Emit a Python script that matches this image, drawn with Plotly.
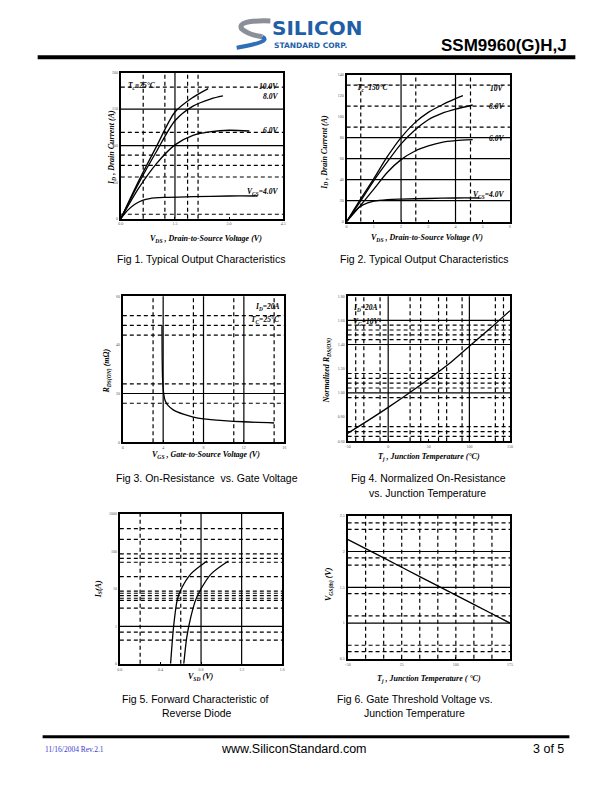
import plotly.graph_objects as go

W, H = 612, 792


def px(x):
    return x / W


def py(y):
    return 1 - y / H


# ---- Fig 1: typical output characteristics, Tc = 25 C
f1_vds_10v = [0, 0.5, 1.0, 1.5, 2.0, 2.42]
f1_id_10v = [0, 52, 100, 146, 166, 178]
f1_vds_8v = [0, 0.5, 1.0, 1.5, 2.0, 2.5, 2.83]
f1_id_8v = [0, 49, 93, 134, 154, 164, 168]
f1_vds_6v = [0, 0.5, 1.0, 1.5, 2.0, 2.5, 3.0, 3.56]
f1_id_6v = [0, 42, 76, 101, 114, 119, 121, 120]
f1_vds_4v = [0, 0.2, 0.4, 0.6, 0.8, 1.2, 2.0, 3.0, 3.79]
f1_id_4v = [0, 12, 20, 25, 27.5, 29, 30, 31, 31]

# ---- Fig 2: typical output characteristics, Tc = 150 C
f2_vds_10v = [0, 0.5, 1, 1.5, 2, 2.5, 3, 3.5, 4, 4.27]
f2_id_10v = [0, 21, 41, 62, 80, 94, 104, 111, 117, 120]
f2_vds_8v = [0, 0.5, 1, 1.5, 2, 2.5, 3, 3.5, 4, 4.63]
f2_id_8v = [0, 19, 39, 57, 74, 87, 97, 103, 107, 111]
f2_vds_6v = [0, 0.5, 1, 1.5, 2, 2.5, 3, 3.5, 4, 4.63]
f2_id_6v = [0, 15, 31, 47, 59, 67, 72, 75.5, 77, 78]
f2_vds_4v = [0, 0.3, 0.6, 1, 1.5, 2, 3, 4, 4.88]
f2_id_4v = [0, 10, 16, 19.5, 21, 21.5, 22, 22.5, 22.5]

# ---- Fig 3: on-resistance vs gate voltage
f3_vgs = [3.88, 3.9, 3.95, 4.05, 4.2, 4.5, 5, 6, 7, 8, 10, 12, 15]
f3_rds = [48, 35, 25, 20, 17, 15, 13.3, 11.5, 10.3, 9.6, 8.9, 8.4, 7.9]

# ---- Fig 4: normalized on-resistance vs junction temperature
f4_tj = [-50, -25, 0, 25, 50, 75, 100, 125, 150]
f4_rn = [0.665, 0.77, 0.88, 0.995, 1.115, 1.24, 1.385, 1.53, 1.68]

# ---- Fig 5: forward characteristic of reverse diode
f5_vsd_150 = [0.5, 0.53, 0.565, 0.6, 0.7, 0.86]
f5_is_150 = [0.1, 1, 5, 9.3, 25, 55]
f5_vsd_25 = [0.63, 0.66, 0.7, 0.75, 0.8, 0.9, 1.07]
f5_is_25 = [0.1, 0.52, 1.8, 5.3, 10, 25, 55]

# ---- Fig 6: gate threshold voltage vs junction temperature
f6_tj = [-50, 0, 50, 100, 150, 175]
f6_vth = [2.17, 1.91, 1.65, 1.39, 1.13, 1.0]

# panel layout (pixel box on the page) and grid lines
panels = [
    dict(box=(119, 70, 283, 217), xr=[0, 4.5], yr=[0, 200],
         xt=[0, 1.5, 3.0, 4.5], xtt=["0.0", "1.5", "3.0", "4.5"],
         yt=[0, 50, 100, 150, 200], ytt=["0", "50", "100", "150", "200"],
         vs=[1.5], vd=[0.62, 1.22, 1.85, 2.14],
         hs=[100, 150], hd=[6, 57, 73, 87, 118, 180]),
    dict(box=(347, 72, 512, 220), xr=[0, 6], yr=[0, 140],
         xt=[0, 1, 2, 3, 4, 5, 6], xtt=None,
         yt=[0, 20, 40, 60, 80, 100, 120, 140], ytt=None,
         vs=[2, 4], vd=[0.52, 2.54, 4.55],
         hs=[20, 40, 60, 80], hd=[90, 110, 130]),
    dict(box=(121, 295, 284, 442), xr=[0, 16], yr=[0, 60],
         xt=[0, 4, 8, 12, 16], xtt=None,
         yt=[0, 20, 40, 60], ytt=None,
         vs=[4, 8, 12], vd=[3, 7, 11, 15],
         hs=[20], hd=[16, 24, 44, 48, 52]),
    dict(box=(348, 295, 512, 441), xr=[-50, 150], yr=[0.6, 1.8],
         xt=[-50, 0, 50, 100, 150], xtt=None,
         yt=[0.6, 0.8, 1.0, 1.2, 1.4, 1.6, 1.8],
         ytt=["0.60", "0.80", "1.00", "1.20", "1.40", "1.60", "1.80"],
         vs=[0, 100], vd=[-40, -30, -10, 27, 40, 62, 72, 91, 132, 142],
         hs=[1.0, 1.4, 1.6],
         hd=[0.64, 0.68, 0.72, 0.96, 1.04, 1.08, 1.12, 1.16, 1.44, 1.48, 1.52, 1.56]),
    dict(box=(118, 514, 282, 665), xr=[0, 1.6], yr=[-1, 3], ylog=True,
         xt=[0, 0.4, 0.8, 1.2, 1.6], xtt=["0.0", "0.4", "0.8", "1.2", "1.6"],
         yt=[0.1, 1, 10, 100, 1000], ytt=["0", "1", "10", "100", "1000"],
         vs=[0.8, 1.2], vd=[0.2, 0.6],
         hs=[1], hd=[0.43, 0.7, 3.06, 4.9, 5.6, 6.6, 7.6, 8.7, 21, 51, 65, 85, 208, 400]),
    dict(box=(348, 516, 512, 660), xr=[-50, 175], yr=[0.5, 2.5],
         xt=[-50, 25, 100, 175], xtt=None,
         yt=[0.5, 1, 1.5, 2, 2.5], ytt=["0.5", "1", "1.5", "2", "2.5"],
         vs=[], vd=[-25, 0, 25, 50, 75, 100, 125, 150],
         hs=[1, 1.5, 2], hd=[0.6, 0.69, 1.1, 1.41, 1.81, 1.91, 2.31, 2.4]),
]

series = [
    (1, [(f1_vds_10v, f1_id_10v), (f1_vds_8v, f1_id_8v), (f1_vds_6v, f1_id_6v), (f1_vds_4v, f1_id_4v)]),
    (2, [(f2_vds_10v, f2_id_10v), (f2_vds_8v, f2_id_8v), (f2_vds_6v, f2_id_6v), (f2_vds_4v, f2_id_4v)]),
    (3, [(f3_vgs, f3_rds)]),
    (4, [(f4_tj, f4_rn)]),
    (5, [(f5_vsd_150, f5_is_150), (f5_vsd_25, f5_is_25)]),
    (6, [(f6_tj, f6_vth)]),
]

SERIF = "Liberation Serif"
SANS = "Liberation Sans"

fig = go.Figure()
shapes = []
annotations = []

for i, p in enumerate(panels, start=1):
    sfx = "" if i == 1 else str(i)
    l, t, r, b = p["box"]
    tickfont = dict(family=SERIF, size=4, color="#555")
    xa = dict(domain=[px(l), px(r)], range=p["xr"], anchor="y" + sfx,
              showline=True, mirror=True, linecolor="black", linewidth=2,
              showgrid=False, zeroline=False, tickvals=p["xt"],
              ticks="inside", ticklen=2, tickcolor="black",
              tickfont=tickfont, fixedrange=True)
    if p["xtt"]:
        xa["ticktext"] = p["xtt"]
    ya = dict(domain=[py(b), py(t)], range=p["yr"], anchor="x" + sfx,
              showline=True, mirror=True, linecolor="black", linewidth=2,
              showgrid=False, zeroline=False, tickvals=p["yt"],
              ticks="", tickfont=tickfont, fixedrange=True)
    if p.get("ylog"):
        ya["type"] = "log"
    if p["ytt"]:
        ya["ticktext"] = p["ytt"]
    fig.update_layout({"xaxis" + sfx: xa, "yaxis" + sfx: ya})

    xref, yref = "x" + sfx, "y" + sfx
    for v, dash in [(v, "solid") for v in p["vs"]] + [(v, "4px,3px") for v in p["vd"]]:
        shapes.append(dict(type="line", xref=xref, yref=yref + " domain",
                           x0=v, x1=v, y0=0, y1=1, layer="below",
                           line=dict(color="black", width=1.2, dash=dash)))
    for h, dash in [(h, "solid") for h in p["hs"]] + [(h, "4px,3px") for h in p["hd"]]:
        shapes.append(dict(type="line", xref=xref + " domain", yref=yref,
                           x0=0, x1=1, y0=h, y1=h, layer="below",
                           line=dict(color="black", width=1.2, dash=dash)))

for i, curves in series:
    sfx = "" if i == 1 else str(i)
    for xs, ys in curves:
        fig.add_trace(go.Scatter(x=xs, y=ys, xaxis="x" + sfx, yaxis="y" + sfx,
                                 mode="lines", hoverinfo="skip",
                                 line=dict(color="black", width=1.3,
                                           shape="spline", smoothing=0.8)))


def note(text, x, y, ref="paper", size=8, family=SERIF, color="black",
         xanchor="center", yanchor="middle", angle=0):
    if ref == "paper":
        xr, yr, x, y = "paper", "paper", px(x), py(y)
    else:
        xr, yr = "x" + ref, "y" + ref
    annotations.append(dict(text=text, x=x, y=y, xref=xr, yref=yr,
                            showarrow=False, xanchor=xanchor, yanchor=yanchor,
                            textangle=angle,
                            font=dict(family=family, size=size, color=color)))


def bi(s):
    return "<b><i>" + s + "</i></b>"


# curve labels
note(bi("T<sub>c</sub>=25°C"), 0.15, 182, ref="", size=7.5, xanchor="left")
note(bi("10.0V"), 4.4, 181, ref="", size=7.5, xanchor="right")
note(bi("8.0V"), 4.4, 167, ref="", size=7.5, xanchor="right")
note(bi("6.0V"), 4.4, 120, ref="", size=7.5, xanchor="right")
note(bi("V<sub>GS</sub>=4.0V"), 4.4, 36, ref="", size=7.5, xanchor="right")

note(bi("T<sub>c</sub>=150°C"), 0.3, 127, ref="2", size=7.5, xanchor="left")
note(bi("10V"), 5.85, 127, ref="2", size=7.5, xanchor="right")
note(bi("8.0V"), 5.85, 110, ref="2", size=7.5, xanchor="right")
note(bi("6.0V"), 5.85, 79, ref="2", size=7.5, xanchor="right")
note(bi("V<sub>GS</sub>=4.0V"), 5.85, 25, ref="2", size=7.5, xanchor="right")

note(bi("I<sub>D</sub>=20A"), 15.8, 55.5, ref="3", size=7.5, xanchor="right")
note(bi("T<sub>C</sub>=25°C"), 15.8, 50, ref="3", size=7.5, xanchor="right")

note(bi("I<sub>D</sub>=20A"), -46, 1.7, ref="4", size=7.5, xanchor="left")
note(bi("V<sub>G</sub>=10V"), -46, 1.59, ref="4", size=7.5, xanchor="left")

note(bi("T<sub>j</sub>=150°C"), 0.08, 7.5, ref="5", size=7.5, xanchor="left")
note(bi("T<sub>j</sub>=25°C"), 0.83, 4.2, ref="5", size=7.5, xanchor="left")

# axis titles
note(bi("V<sub>DS</sub> , Drain-to-Source Voltage (V)"), 205, 237)
note(bi("I<sub>D</sub> , Drain Current (A)"), 110, 145, angle=-90)
note(bi("V<sub>DS</sub> , Drain-to-Source Voltage (V)"), 428, 236)
note(bi("I<sub>D</sub> , Drain Current (A)"), 325, 150, angle=-90)
note(bi("V<sub>GS</sub> , Gate-to-Source Voltage (V)"), 205, 455)
note(bi("R<sub>DS(ON)</sub> (mΩ)"), 106, 370, angle=-90)
note(bi("T<sub>j</sub> , Junction Temperature (°C)"), 430, 457)
note(bi("Normalized R<sub>DS(ON)</sub>"), 328, 370, angle=-90)
note(bi("V<sub>SD</sub> (V)"), 200, 678)
note(bi("I<sub>S</sub>(A)"), 97, 590, angle=-90)
note(bi("T<sub>j</sub> , Junction Temperature ( °C)"), 430, 680)
note(bi("V<sub>GS(th)</sub> (V)"), 330, 585, angle=-90)

# captions
note("Fig 1. Typical Output Characteristics", 200, 258, family=SANS, size=10.5)
note("Fig 2. Typical Output Characteristics", 425, 258, family=SANS, size=10.5)
note("Fig 3. On-Resistance  vs. Gate Voltage", 206, 478, family=SANS, size=10.5)
note("Fig 4. Normalized On-Resistance", 430, 478, family=SANS, size=10.5)
note("vs. Junction Temperature", 429, 493, family=SANS, size=10.5)
note("Fig 5. Forward Characteristic of", 194, 700, family=SANS, size=10.5)
note("Reverse Diode", 196, 715, family=SANS, size=10.5)
note("Fig 6. Gate Threshold Voltage vs.", 416, 700, family=SANS, size=10.5)
note("Junction Temperature", 416, 715, family=SANS, size=10.5)

# header
note("<b>SSM9960(G)H,J</b>", 572, 43, family=SANS, size=17, xanchor="right")
note("<b>SILICON</b>", 270, 25, family="DejaVu Sans", size=20, color="#1f5fa8",
     xanchor="left")
note("<b>STANDARD CORP.</b>", 272, 42.5, family="DejaVu Sans", size=7.5,
     color="#1f5fa8", xanchor="left")
shapes.append(dict(type="rect", xref="paper", yref="paper",
                   x0=px(35), x1=px(578), y0=py(56.5), y1=py(52.5),
                   fillcolor="black", line=dict(width=0)))


def path(pts):
    s = "M %f,%f" % (px(pts[0][0]), py(pts[0][1]))
    for k in range(1, len(pts), 2):
        s += " Q %f,%f %f,%f" % (px(pts[k][0]), py(pts[k][1]),
                                 px(pts[k + 1][0]), py(pts[k + 1][1]))
    return s


shapes.append(dict(type="path", xref="paper", yref="paper",
                   path=path([(270, 18), (236, 17), (241, 26), (248, 32), (262, 34)]),
                   line=dict(color="#8a8f98", width=5)))
shapes.append(dict(type="path", xref="paper", yref="paper",
                   path=path([(262, 34), (272, 39), (236, 45)]),
                   line=dict(color="#2f6fb8", width=4)))

# footer
shapes.append(dict(type="rect", xref="paper", yref="paper",
                   x0=px(40), x1=px(572), y0=py(740), y1=py(737),
                   fillcolor="black", line=dict(width=0)))
note("11/16/2004 Rev.2.1", 40, 751, family=SERIF, size=7.5, color="#3a3ad0",
     xanchor="left")
note("www.SiliconStandard.com", 294, 751, family=SANS, size=12.5)
note("3 of 5", 569, 751, family=SANS, size=12.5, xanchor="right")

fig.update_layout(width=W, height=H, margin=dict(l=0, r=0, t=0, b=0),
                  autosize=False, showlegend=False,
                  paper_bgcolor="white", plot_bgcolor="white",
                  shapes=shapes, annotations=annotations)

fig.write_html("out.html", config={"displayModeBar": False},
               post_script="document.body.style.margin='0';document.body.style.overflow='hidden';")
